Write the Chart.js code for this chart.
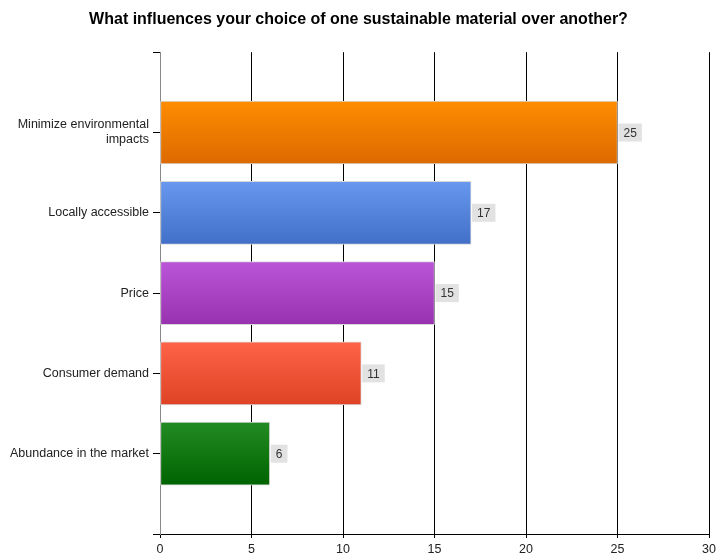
<!DOCTYPE html>
<html>
<head>
<meta charset="utf-8">
<script src="https://cdn.jsdelivr.net/npm/chart.js@4/dist/chart.umd.min.js"></script>
<style>
  html, body { margin: 0; padding: 0; background: #fff; }
  #wrap { width: 717px; height: 556px; }
</style>
</head>
<body>
<div id="wrap"><canvas id="barChart"></canvas></div>
<script>
// empty entries at both ends leave the gaps above and below the bars
const categories = ['', ['Minimize environmental', 'impacts'], 'Locally accessible', 'Price', 'Consumer demand', 'Abundance in the market', '']
const responses = [null, 25, 17, 15, 11, 6, null]
const topColors = [null, '#ff8c00', '#6797ee', '#bb55d8', '#ff6347', '#238b23', null]
const bottomColors = [null, '#dc6a00', '#4270c8', '#9832b0', '#de4326', '#006400', null]
const xTicks = [0, 5, 10, 15, 20, 25, 30]

const FONT = 'Liberation Sans, Arial, sans-serif'

// grey value boxes at the end of every bar
const valueBoxes = {
    id: 'valueBoxes',
    afterDatasetsDraw(chart) {
        const ctx = chart.ctx
        const meta = chart.getDatasetMeta(0)
        ctx.save()
        ctx.font = '12px ' + FONT
        ctx.textBaseline = 'middle'
        meta.data.forEach((bar, i) => {
            const v = responses[i]
            if (v === null) return
            const txt = String(v)
            const w = ctx.measureText(txt).width + 10
            const x = bar.x + 1
            ctx.fillStyle = '#e2e2e2'
            ctx.fillRect(x, bar.y - 9, w, 18)
            ctx.fillStyle = '#333'
            ctx.textAlign = 'center'
            ctx.fillText(txt, x + w / 2, bar.y + 1)
        })
        ctx.restore()
    }
}

const barGradient = (context) => {
    const chart = context.chart
    const i = context.dataIndex
    if (!chart.chartArea || !topColors[i]) return topColors[i] || 'transparent'
    const cy = chart.scales.y.getPixelForValue(i)
    const g = chart.ctx.createLinearGradient(0, cy - 31, 0, cy + 31)
    g.addColorStop(0, topColors[i])
    g.addColorStop(1, bottomColors[i])
    return g
}

const ctx = document.getElementById('barChart').getContext('2d')

new Chart(ctx, {
    type: 'bar',
    data: {
        labels: categories,
        datasets: [
            {
                label: 'Responses',
                data: responses,
                backgroundColor: barGradient,
                borderColor: '#d8d8d8',
                borderWidth: 1,
                borderSkipped: false,
                barThickness: 63,
            },
        ],
    },
    plugins: [valueBoxes],
    options: {
        indexAxis: 'y',
        responsive: true,
        maintainAspectRatio: false,
        animation: false,
        layout: { padding: { left: 0, right: 0, top: 0, bottom: 0 } },
        plugins: {
            legend: { display: false },
            tooltip: { enabled: false },
            title: {
                display: true,
                text: 'What influences your choice of one sustainable material over another?',
                color: '#000',
                font: { family: FONT, size: 16, weight: 'bold' },
                padding: { top: 10, bottom: 23 },
            },
        },
        scales: {
            x: {
                min: 0,
                max: 30,
                afterBuildTicks: (scale) => { scale.ticks = xTicks.map(v => ({ value: v })) },
                grid: { color: '#000', lineWidth: 1, tickLength: 4 },
                border: { color: '#000' },
                ticks: { color: '#222', font: { family: FONT, size: 12.5 }, padding: 4 },
                afterFit: (scale) => { scale.height = 22; scale.paddingRight = 8 },
            },
            y: {
                offset: false,
                grid: { drawOnChartArea: false, offset: false, color: '#000', tickLength: 7 },
                border: { color: '#888' },
                ticks: { color: '#222', font: { family: FONT, size: 12.5 }, padding: 4, autoSkip: false },
                afterFit: (scale) => { scale.width = 160 },
            },
        },
    },
})
</script>
</body>
</html>
